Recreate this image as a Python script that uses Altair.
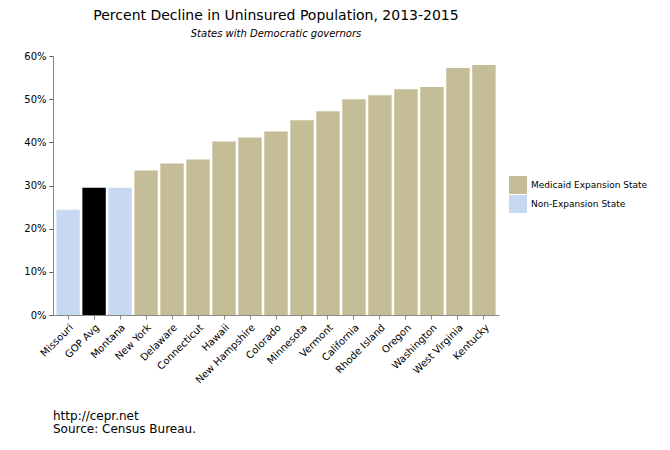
import altair as alt
import pandas as pd

states = ["Missouri", "GOP Avg", "Montana", "New York", "Delaware", "Connecticut", "Hawaii",
          "New Hampshire", "Colorado", "Minnesota", "Vermont", "California", "Rhode Island",
          "Oregon", "Washington", "West Virginia", "Kentucky"]
decline = [0.244, 0.295, 0.295, 0.335, 0.351, 0.360, 0.402, 0.411, 0.425, 0.451, 0.472,
           0.500, 0.509, 0.523, 0.528, 0.572, 0.579]
groups = ["Non-Expansion State", "GOP Avg", "Non-Expansion State"] + ["Medicaid Expansion State"] * 14

legend_labels = ["Medicaid Expansion State", "Non-Expansion State"]
color_domain = ["Medicaid Expansion State", "Non-Expansion State", "GOP Avg"]
color_range = ["#c5bd97", "#c6d9f0", "#000000"]
y_ticks = [0, 0.1, 0.2, 0.3, 0.4, 0.5, 0.6]
footer_lines = ["http://cepr.net", "Source: Census Bureau."]

df = pd.DataFrame({"state": states, "decline": decline, "group": groups})

FONT = "DejaVu Sans"

bars = alt.Chart(df).mark_bar().encode(
    x=alt.X("state:N", sort=states, title=None,
            scale=alt.Scale(paddingInner=0.1, paddingOuter=0.13),
            axis=alt.Axis(labelAngle=-45, labelFontSize=10, labelColor="#000",
                          domainColor="#888", tickColor="#888", tickSize=4,
                          labelPadding=3)),
    y=alt.Y("decline:Q", title=None,
            scale=alt.Scale(domain=[0, 0.6], nice=False),
            axis=alt.Axis(format=".0%", values=y_ticks, grid=False, labelFontSize=10,
                          labelColor="#000", domainColor="#888", tickColor="#555",
                          tickSize=4, labelPadding=3)),
    color=alt.Color("group:N",
                    scale=alt.Scale(domain=color_domain, range=color_range),
                    legend=alt.Legend(values=legend_labels, title=None, orient="none",
                                      legendX=456, legendY=120, symbolType="square",
                                      symbolSize=324, symbolStrokeWidth=0,
                                      symbolOpacity=1, labelFontSize=9, labelColor="#000",
                                      rowPadding=1, padding=0, labelOffset=4)),
)

footer = alt.Chart(pd.DataFrame({"t": [0]})).mark_text(
    align="left", baseline="top", fontSize=12, lineHeight=13, font=FONT, color="#000"
).encode(
    x=alt.value(0), y=alt.value(355), text=alt.value(footer_lines)
)

chart = alt.layer(bars, footer).properties(
    width=446, height=259,
    autosize=alt.AutoSizeParams(type="none"),
    padding={"left": 45, "top": 48, "right": 160, "bottom": 120},
    title=alt.Title("Percent Decline in Uninsured Population, 2013-2015",
                    subtitle="States with Democratic governors",
                    fontSize=14, fontWeight="normal", font=FONT, color="#000",
                    subtitleFont=FONT, subtitleFontSize=10, subtitleFontStyle="italic",
                    subtitleColor="#000", anchor="middle", frame="group",
                    offset=12, subtitlePadding=6),
).configure(font=FONT).configure_view(stroke=None)

chart.save("out.html", embed_options={"renderer": "svg", "actions": False})
